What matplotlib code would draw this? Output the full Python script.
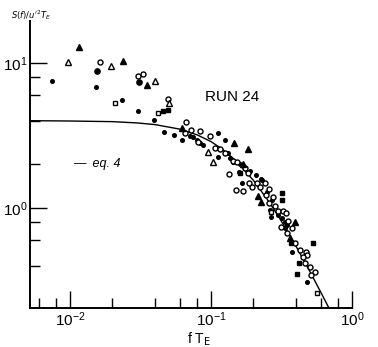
import matplotlib

matplotlib.use("Agg")
import matplotlib.pyplot as plt
from matplotlib.ticker import LogLocator, NullFormatter

# values (f*T_E, S(f)/u'^2 T_E)
dot_f = [0.00745, 0.0153, 0.0234, 0.0304, 0.0394, 0.0464, 0.0547, 0.0622, 0.071, 0.0745,
         0.0796, 0.0836, 0.0877, 0.112, 0.1257, 0.112, 0.132, 0.136, 0.143, 0.161,
         0.158, 0.166, 0.189, 0.208, 0.226, 0.230, 0.249, 0.271, 0.262, 0.299,
         0.267, 0.319, 0.335, 0.346, 0.335, 0.375, 0.480]
dot_s = [7.5, 6.83, 5.56, 4.67, 4.04, 3.34, 3.19, 2.94, 3.14, 3.09,
         2.94, 2.81, 2.72, 3.29, 2.94, 2.25, 2.40, 2.21, 2.08, 2.01,
         1.77, 1.49, 1.80, 1.69, 1.58, 1.56, 1.29, 1.14, 0.97, 0.90,
         0.87, 0.85, 0.80, 0.76, 0.73, 0.50, 0.31]

big_dot_f = [0.0155, 0.0309]
big_dot_s = [8.8, 7.4]

open_circle_f = [0.0163, 0.0304, 0.033, 0.0495, 0.0665, 0.0654, 0.0721, 0.0836, 0.0809, 0.0984,
                 0.1067, 0.116, 0.1257, 0.143, 0.153, 0.134, 0.174, 0.183, 0.186, 0.150,
                 0.169, 0.195, 0.212, 0.223, 0.242, 0.258, 0.245, 0.275, 0.258, 0.284,
                 0.299, 0.324, 0.340, 0.352, 0.313, 0.375, 0.346, 0.394, 0.428, 0.472,
                 0.480, 0.449, 0.464, 0.504, 0.547, 0.512]
open_circle_s = [10.2, 8.1, 8.4, 5.65, 3.92, 3.29, 3.45, 3.40, 2.85, 3.14,
                 2.59, 2.55, 2.40, 2.11, 2.08, 1.72, 1.89, 1.74, 1.49, 1.33,
                 1.31, 1.40, 1.49, 1.40, 1.49, 1.35, 1.23, 1.19, 1.08, 1.03,
                 0.95, 0.95, 0.92, 0.81, 0.74, 0.73, 0.67, 0.57, 0.51, 0.50,
                 0.47, 0.46, 0.42, 0.39, 0.36, 0.345]

open_tri_f = [0.0097, 0.0195, 0.0401, 0.0504, 0.0952, 0.1033]
open_tri_s = [10.2, 9.5, 7.5, 5.30, 2.43, 2.08]

filled_tri_f = [0.0116, 0.0238, 0.0352, 0.0622, 0.146, 0.183, 0.169, 0.215, 0.226, 0.394, 0.363]
filled_tri_s = [12.9, 10.3, 7.05, 3.56, 2.81, 2.55, 2.01, 1.21, 1.10, 0.80, 0.62]

open_sq_f = [0.0208, 0.0421, 0.267, 0.565]
open_sq_s = [5.30, 4.52, 0.94, 0.26]

filled_sq_f = [0.0457, 0.0495, 0.161, 0.319, 0.319, 0.369, 0.529, 0.421, 0.407]
filled_sq_s = [4.67, 4.74, 1.74, 1.27, 1.14, 0.57, 0.57, 0.42, 0.35]

# eq. 4 curve
curve_f = [0.0052, 0.01, 0.02, 0.03, 0.04, 0.06, 0.08, 0.1, 0.12, 0.15,
           0.2, 0.25, 0.3, 0.35, 0.4, 0.5, 0.6, 0.69]
curve_s = [4.0, 3.98, 3.94, 3.86, 3.76, 3.50, 3.19, 2.87, 2.55, 2.12,
           1.55, 1.15, 0.88, 0.685, 0.547, 0.368, 0.263, 0.202]

plt.rcParams["font.family"] = ["Liberation Sans", "DejaVu Sans"]

fig = plt.figure(figsize=(3.78, 3.47), dpi=100)
ax = fig.add_axes([0.0794, 0.1124, 0.8517, 0.8271])

ax.plot(curve_f, curve_s, color="black", lw=1.0)

k = dict(color="black", linestyle="none")
ax.plot(dot_f, dot_s, marker="o", ms=2.6, **k)
ax.plot(big_dot_f, big_dot_s, marker="o", ms=3.8, **k)
ax.plot(open_circle_f, open_circle_s, marker="o", ms=3.6, mfc="white", mew=1.0, **k)
ax.plot(open_tri_f, open_tri_s, marker="^", ms=3.8, mfc="white", mew=1.0, **k)
ax.plot(filled_tri_f, filled_tri_s, marker="^", ms=4.0, **k)
ax.plot(open_sq_f, open_sq_s, marker="s", ms=3.2, mfc="white", mew=1.0, **k)
ax.plot(filled_sq_f, filled_sq_s, marker="s", ms=3.2, **k)

ax.set_xscale("log")
ax.set_yscale("log")
ax.set_xlim(0.0052, 1.0)
ax.set_ylim(0.204, 19.5)

for side in ["top", "right"]:
    ax.spines[side].set_visible(False)
for side in ["left", "bottom"]:
    ax.spines[side].set_linewidth(1.4)

for axis in [ax.xaxis, ax.yaxis]:
    axis.set_minor_locator(LogLocator(base=10, subs=[2, 4, 6, 8]))
    axis.set_minor_formatter(NullFormatter())
ax.tick_params(which="major", direction="in", length=12, width=1.0, labelsize=11, pad=2)
ax.tick_params(which="minor", direction="in", length=7, width=1.0)

fig.text(0.028, 0.958, r"$S(f)/u'^2T_E$", fontsize=6, ha="left", va="center")
fig.text(0.525, 0.022, r"f T$_\mathrm{E}$", fontsize=10, ha="center", va="center")
ax.text(0.09, 5.8, "RUN 24", fontsize=11, ha="left", va="center")
ax.text(0.0105, 2.0, "—  eq. 4", fontsize=9, style="italic", ha="left", va="center")

fig.savefig("out.png", dpi=100)
